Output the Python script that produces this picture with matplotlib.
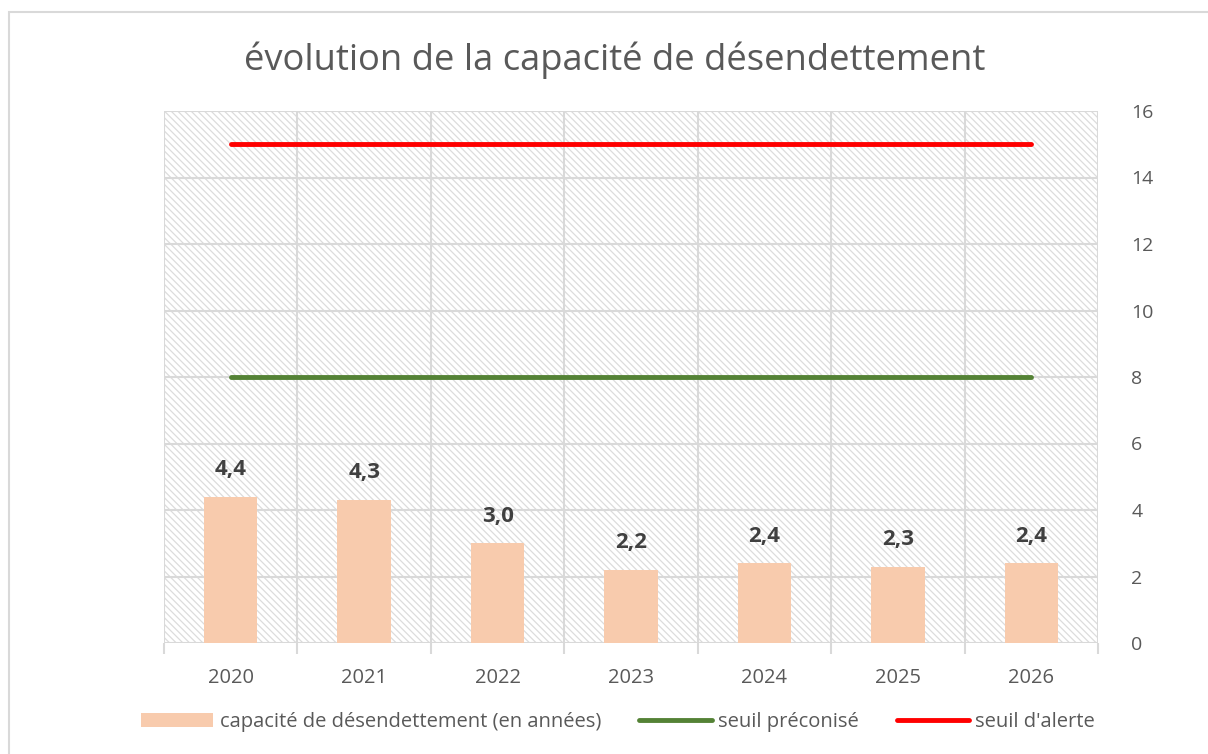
import matplotlib.pyplot as plt
from matplotlib.patches import Rectangle
from matplotlib.lines import Line2D

years = ["2020", "2021", "2022", "2023", "2024", "2025", "2026"]
capacite = [4.4, 4.3, 3.0, 2.2, 2.4, 2.3, 2.4]
seuil_preconise = [8, 8, 8, 8, 8, 8, 8]
seuil_alerte = [15, 15, 15, 15, 15, 15, 15]
y_ticks = [0, 2, 4, 6, 8, 10, 12, 14, 16]

text_col = "#595959"
grid_col = "#D9D9D9"
bar_col = "#F8CBAD"
green = "#548235"
red = "#FF0000"
font = "Open Sans"

plt.rcParams["font.family"] = [font, "DejaVu Sans"]
plt.rcParams["hatch.linewidth"] = 0.9

fig = plt.figure(figsize=(12.08, 7.54), dpi=100)
W, H = 1208, 754

# outer chart border
fig.patches.append(Rectangle((9 / W, -0.1), 1.2, (754 - 12) / H + 0.1,
                             transform=fig.transFigure, fill=False,
                             edgecolor=grid_col, linewidth=1.5))

ax = fig.add_axes([164 / W, (H - 643) / H, (1098 - 164) / W, (643 - 111) / H])
x = list(range(len(years)))

# hatched background
ax.add_patch(Rectangle((0, 0), 1, 1, transform=ax.transAxes, facecolor="white",
                       edgecolor="#DCDCDC", hatch="\\\\\\\\\\", linewidth=0, zorder=0))

ax.set_xlim(-0.5, len(years) - 0.5)
ax.set_ylim(0, 16)

for y in y_ticks:
    ax.axhline(y, color=grid_col, linewidth=1.5, zorder=1)
for b in range(len(years) + 1):
    ax.axvline(b - 0.5, color=grid_col, linewidth=1.5, zorder=1)

ax.bar(x, capacite, width=0.4, color=bar_col, zorder=2,
       label="capacité de désendettement (en années)")
ax.plot(x, seuil_preconise, color=green, linewidth=3.5, solid_capstyle="round",
        zorder=3, label="seuil préconisé")
ax.plot(x, seuil_alerte, color=red, linewidth=3.5, solid_capstyle="round",
        zorder=3, label="seuil d'alerte")

for xi, v in zip(x, capacite):
    ax.text(xi, v + 0.5, f"{v:.1f}".replace(".", ","), ha="center", va="bottom",
            fontsize=16, fontweight="bold", color="#404040")

for s in ax.spines.values():
    s.set_visible(False)

ax.yaxis.tick_right()
ax.set_yticks(y_ticks)
ax.set_yticklabels([str(t) for t in y_ticks])
ax.tick_params(axis="y", length=0, pad=24, labelsize=14, labelcolor=text_col)

ax.set_xticks(x)
ax.set_xticklabels(years)
ax.tick_params(axis="x", length=0, pad=18, labelsize=14.5, labelcolor=text_col)
ax.set_xticks([b - 0.5 for b in range(len(years) + 1)], minor=True)
ax.tick_params(axis="x", which="minor", length=8, width=1.5, color=grid_col)

fig.text(615 / W, (H - 60) / H, "évolution de la capacité de désendettement",
         ha="center", va="center", fontsize=26.2, color=text_col)

handles = [
    Rectangle((0, 0), 1, 1, facecolor=bar_col, edgecolor="none"),
    Line2D([0], [0], color=green, linewidth=3.5, solid_capstyle="round"),
    Line2D([0], [0], color=red, linewidth=3.5, solid_capstyle="round"),
]
labels = ["capacité de désendettement (en années)", "seuil préconisé", "seuil d'alerte"]
fig.legend(handles, labels, loc="center", bbox_to_anchor=(618 / W, (H - 722) / H),
           ncol=3, frameon=False, fontsize=14.5, labelcolor=text_col,
           handlelength=3.6, handletextpad=0.3, columnspacing=1.9)

fig.savefig("out.png", dpi=100)
